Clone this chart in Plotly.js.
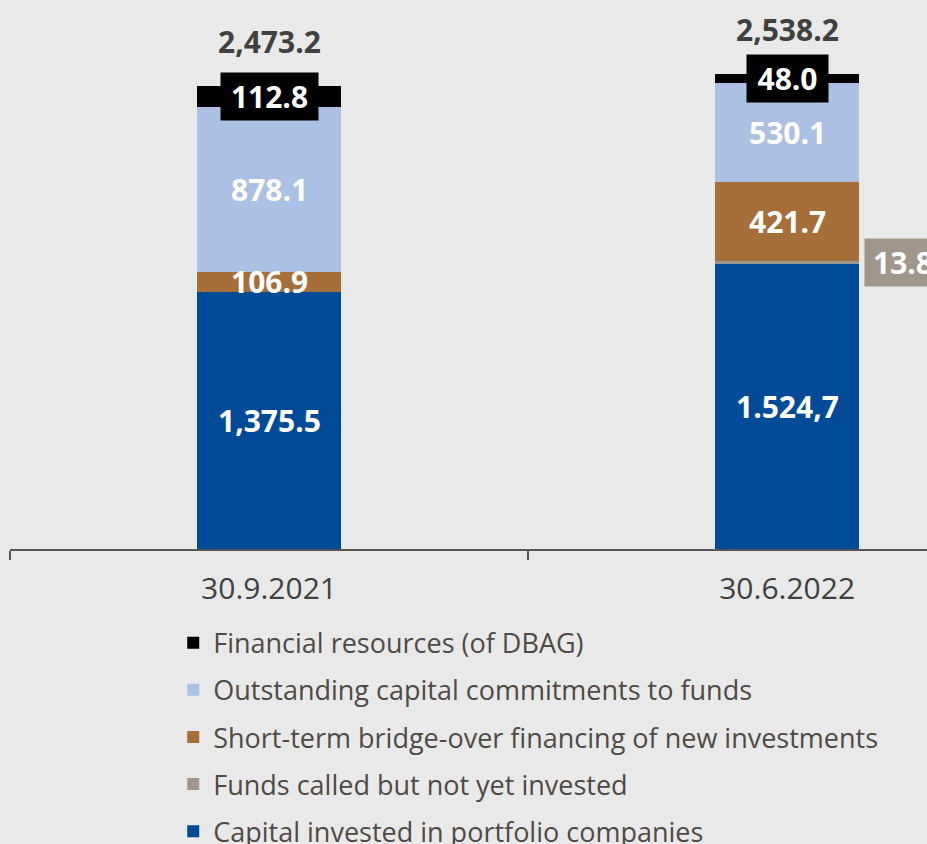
<!DOCTYPE html>
<html>
<head>
<meta charset="utf-8">
<script src="https://cdn.plot.ly/plotly-3.0.1.min.js"></script>
<style>
  html, body { margin: 0; padding: 0; background: #e9e9e9; }
  #chart { width: 927px; height: 844px; }
</style>
</head>
<body>
<div id="chart"></div>
<script>
// Daten (Mio. EUR)
const categories = ["30.9.2021", "30.6.2022"];
const capitalInvested = [1375.5, 1524.7];
const fundsCalled = [0, 13.8];
const bridgeFinancing = [106.9, 421.7];
const outstandingCommitments = [878.1, 530.1];
const financialResources = [112.8, 48.0];
const totals = [2473.2, 2538.2];

const capitalLabels = ["1,375.5", "1.524,7"];
const fundsLabels = ["", "13.8"];
const bridgeLabels = ["106.9", "421.7"];
const outstandingLabels = ["878.1", "530.1"];
const resourcesLabels = ["112.8", "48.0"];
const totalLabels = ["2,473.2", "2,538.2"];

const names = [
  "Capital invested in portfolio companies",
  "Funds called but not yet invested",
  "Short-term bridge-over financing of new investments",
  "Outstanding capital commitments to funds",
  "Financial resources (of DBAG)",
];
const colors = ["#004b98", "#a0968a", "#a66e38", "#abc0e2", "#000000"];

const series = [capitalInvested, fundsCalled, bridgeFinancing, outstandingCommitments, financialResources];
const seriesLabels = [capitalLabels, fundsLabels, bridgeLabels, outstandingLabels, resourcesLabels];

const barWidth = 0.278;

const data = series.map((werte, i) => ({
  x: categories,
  y: werte,
  type: "bar",
  name: names[i],
  legendgroup: "g" + i,
  legendrank: 10 * (5 - i), // oberstes Segment zuerst in der Legende
  width: barWidth,
  marker: { color: colors[i], line: { width: 0 } },
  hoverinfo: "skip",
}));

// Beschriftungen der Segmente
const annotations = [];
const labelFont = { family: "Open Sans", size: 30, color: "#ffffff", weight: 700 };

categories.forEach((cat, c) => {
  let basis = 0;
  series.forEach((werte, i) => {
    const v = werte[c];
    const mitte = basis + v / 2;
    basis += v;
    const txt = seriesLabels[i][c];
    if (!txt) return;
    if (i === 4) {
      // schwarze Box ueber dem Segment
      annotations.push({
        x: cat, y: mitte, xref: "x", yref: "y",
        text: txt, showarrow: false, font: labelFont,
        bgcolor: "#000000", borderpad: 0,
        width: 16 * txt.length + 17, height: 47,
        xanchor: "center", yanchor: "middle",
      });
    } else if (i === 1) {
      // graue Box rechts neben dem Balken
      annotations.push({
        x: c + barWidth / 2, y: mitte, xref: "x", yref: "y",
        text: txt, showarrow: false, font: labelFont,
        bgcolor: colors[1], borderpad: 8,
        width: 16 * txt.length + 10, height: 31, align: "left",
        xanchor: "left", yanchor: "middle", xshift: 5,
      });
    } else {
      annotations.push({
        x: cat, y: mitte, xref: "x", yref: "y",
        text: txt, showarrow: false, font: labelFont,
        xanchor: "center", yanchor: "middle",
      });
    }
  });
  annotations.push({
    x: cat, y: totals[c], xref: "x", yref: "y",
    text: totalLabels[c], showarrow: false,
    font: { family: "Open Sans", size: 30, color: "#404040", weight: 700 },
    xanchor: "center", yanchor: "middle", yshift: 45,
  });
});

const layout = {
  width: 927,
  height: 844,
  barmode: "stack",
  paper_bgcolor: "#e9e9e9",
  plot_bgcolor: "#e9e9e9",
  margin: { l: 10, r: 0, t: 0, b: 295, autoexpand: false },
  font: { family: "Open Sans", color: "#404040" },
  xaxis: {
    type: "category",
    range: [-0.5, 1.27],
    fixedrange: true,
    showline: true,
    linecolor: "#555555",
    linewidth: 2,
    ticks: "outside",
    tickson: "boundaries",
    ticklen: 9,
    tickwidth: 2,
    tickcolor: "#555555",
    ticklabelstandoff: 12,
    showgrid: false,
    tickfont: { family: "Open Sans", size: 30, color: "#404040" },
  },
  yaxis: {
    visible: false,
    range: [0, 2935],
    fixedrange: true,
  },
  showlegend: true,
  legend: {
    orientation: "v",
    traceorder: "grouped",
    tracegroupgap: 9,
    x: 0.178,
    xanchor: "left",
    y: -0.127,
    yanchor: "top",
    bgcolor: "rgba(0,0,0,0)",
    font: { family: "Open Sans", size: 27, color: "#4f4a45" },
    itemclick: false,
    itemdoubleclick: false,
  },
  annotations: annotations,
};

Plotly.newPlot("chart", data, layout, { staticPlot: true });
</script>
</body>
</html>
